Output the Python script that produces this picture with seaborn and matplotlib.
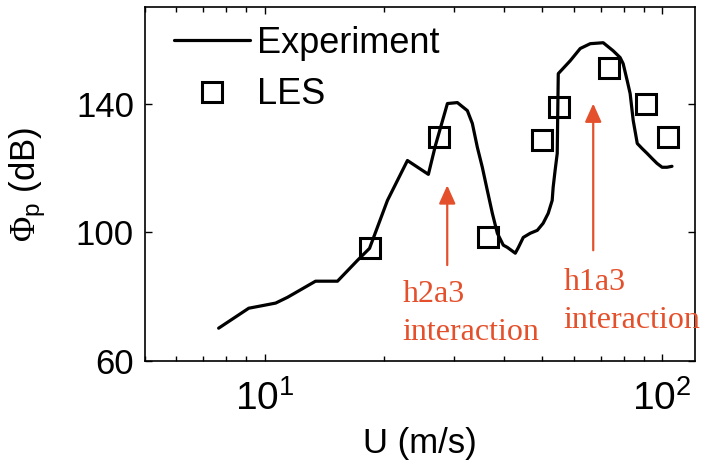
import numpy as np
import pandas as pd
import matplotlib
matplotlib.use("Agg")
import matplotlib.pyplot as plt
import seaborn as sns
from matplotlib.ticker import LogLocator, FixedLocator

# ---------------- data ----------------
exp_U = [7.66, 9.12, 9.77, 10.66, 11.42, 13.43, 15.25, 17.13, 18.36, 20.37,
         22.87, 25.82, 26.9, 28.83, 30.54, 32.36, 33.31, 34.29, 35.29, 36.33,
         37.4, 38.5, 39.85, 40.8, 42.72, 43.5, 44.74, 46.6, 48.53, 50.2,
         51.7, 52.9, 53.2, 53.8, 54.47, 54.6, 54.8, 58.73, 62.23, 65.95,
         71.1, 75.3, 78.4, 79.8, 81.7, 83.1, 84.6, 86.6, 89.1, 91.7,
         94.4, 97.1, 100.0, 102.9, 105.9]
exp_Phi = [70.2, 76.4, 77.1, 78.0, 79.8, 84.8, 84.8, 91.3, 95.0, 109.9,
           122.3, 118.0, 127.0, 140.0, 140.3, 137.8, 133.8, 126.4, 120.2, 113.0,
           105.9, 99.7, 96.0, 95.3, 93.5, 95.3, 98.4, 99.7, 100.6, 102.8,
           105.9, 109.9, 114.0, 119.2, 124.5, 134.7, 149.3, 153.3, 157.1, 158.6,
           158.9, 156.4, 154.3, 152.4, 147.1, 143.1, 134.7, 127.6, 126.0, 124.5,
           122.9, 121.4, 120.2, 120.2, 120.5]

les_U = [18.4, 27.4, 36.5, 50.0, 55.1, 73.6, 91.2, 103.5]
les_Phi = [95.0, 129.5, 98.4, 128.8, 138.8, 150.9, 140.0, 129.5]

annot_text = ["h2a3\ninteraction", "h1a3\ninteraction"]
annot_U = [28.8, 67.1]
annot_head = [114.6, 140.0]
annot_tail = [89.8, 94.4]
annot_text_U = [22.2, 56.4]
annot_text_base = [66.5, 70.2]

yticks = [60, 100, 140]

# ---------------- style ----------------
sns.set_theme(style="white")
plt.rcParams["font.family"] = ["Liberation Sans", "DejaVu Sans"]
plt.rcParams["mathtext.fontset"] = "custom"
plt.rcParams["mathtext.rm"] = "Liberation Sans"
plt.rcParams["mathtext.it"] = "Liberation Sans:italic"
plt.rcParams["mathtext.bf"] = "Liberation Sans:bold"
plt.rcParams["mathtext.sf"] = "Liberation Serif"
plt.rcParams["text.color"] = "black"
plt.rcParams["axes.labelcolor"] = "black"
plt.rcParams["xtick.color"] = "black"
plt.rcParams["ytick.color"] = "black"

fig = plt.figure(figsize=(7.04, 4.65), dpi=100)
ax = fig.add_axes([145 / 704, (465 - 361) / 465, 550 / 704, 354 / 465])

df_exp = pd.DataFrame({"U": exp_U, "Phi": exp_Phi})
df_les = pd.DataFrame({"U": les_U, "Phi": les_Phi})

sns.lineplot(data=df_exp, x="U", y="Phi", ax=ax, color="black", lw=2.3,
             sort=False, estimator=None, label="Experiment")
sns.lineplot(data=df_les, x="U", y="Phi", ax=ax, color="black", lw=0,
             sort=False, estimator=None, marker="s", markersize=14.5,
             markerfacecolor="none", markeredgecolor="black",
             markeredgewidth=2.2, label="LES")

ax.set_xscale("log")
ax.set_xlim(5, 121)
ax.set_ylim(60, 170)
ax.yaxis.set_major_locator(FixedLocator(yticks))
ax.xaxis.set_major_locator(LogLocator(base=10, numticks=10))
ax.xaxis.set_minor_locator(LogLocator(base=10, subs=np.arange(2, 10), numticks=20))

red = "#E4502B"
for txt, xu, yh, yt, tx, tb in zip(annot_text, annot_U, annot_head, annot_tail,
                                  annot_text_U, annot_text_base):
    ax.annotate("", xy=(xu, yh), xytext=(xu, yt),
                arrowprops=dict(arrowstyle="-|>,head_length=0.8,head_width=0.36",
                                color=red, lw=1.6, mutation_scale=14,
                                shrinkA=0, shrinkB=0))
    ax.text(tx, tb, txt, color=red, fontsize=23, family="Liberation Serif",
            ha="left", va="baseline", linespacing=1.4)

for s in ax.spines.values():
    s.set_visible(True)
    s.set_color("black")
    s.set_linewidth(1.2)

ax.tick_params(which="both", direction="in", top=True, right=True,
               bottom=True, left=True, colors="black", labelsize=25, pad=8)
ax.tick_params(axis="x", which="major", labelsize=28, pad=14)
ax.tick_params(which="major", length=5, width=1.0)
ax.tick_params(which="minor", length=3.5, width=1.0)

ax.set_xlabel("U (m/s)", fontsize=25, labelpad=6)
ax.set_ylabel(r"$\mathsf{\Phi}_{\mathrm{p}}$ (dB)", fontsize=25, labelpad=20)

leg = ax.legend(loc="upper left", bbox_to_anchor=(0.053, 0.946), frameon=False,
                fontsize=26, handlelength=2.1, handletextpad=0.2,
                labelspacing=0.45, borderpad=0, borderaxespad=0, numpoints=1)

fig.savefig("out.png", dpi=100)
